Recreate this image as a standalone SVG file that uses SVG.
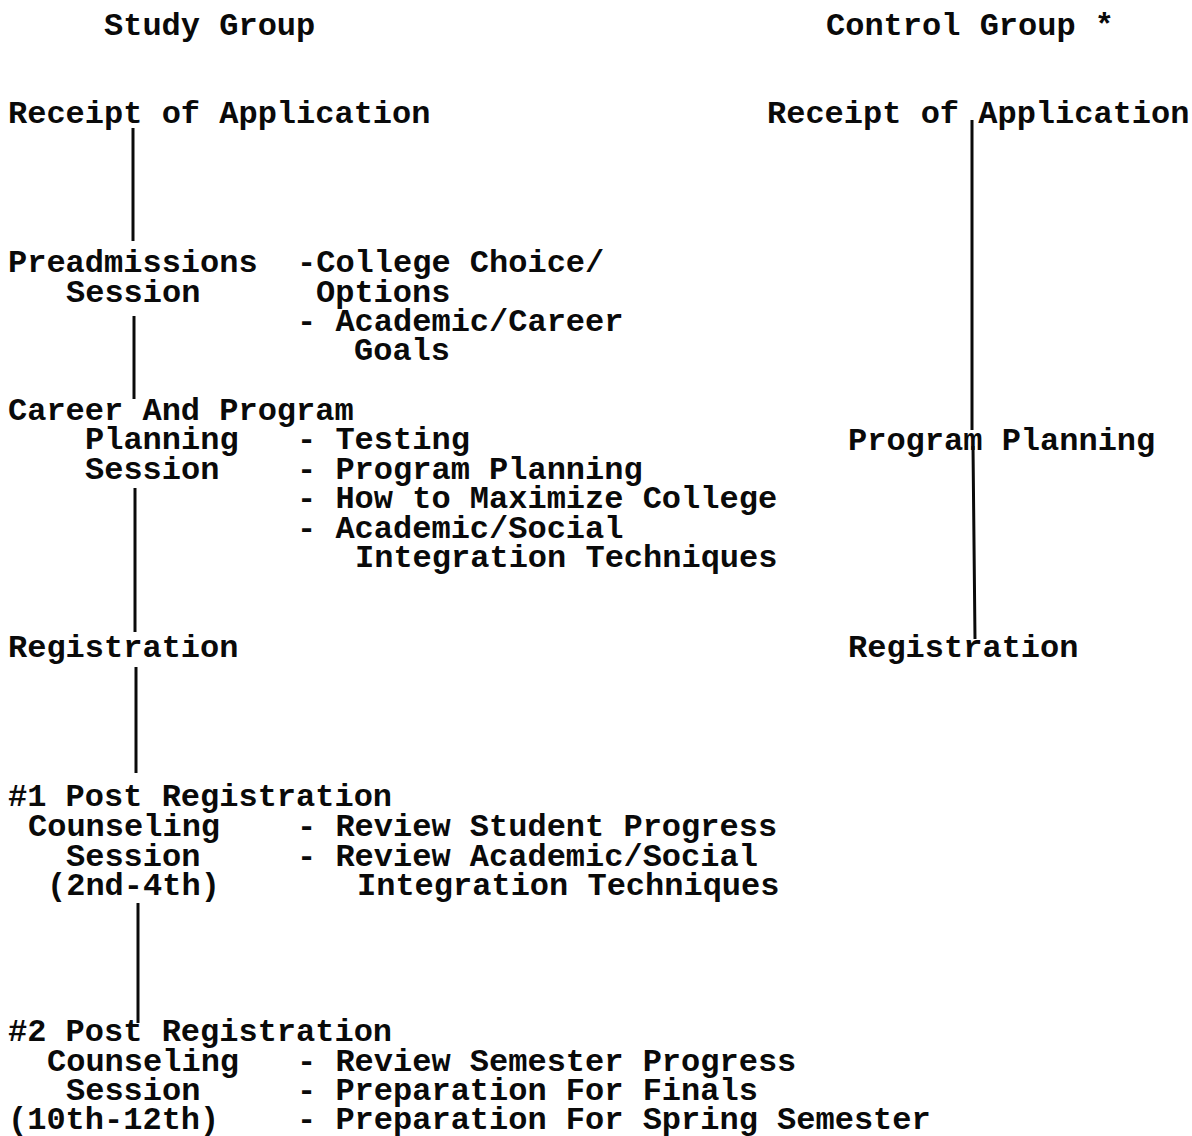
<svg xmlns="http://www.w3.org/2000/svg" width="1192" height="1136" viewBox="0 0 1192 1136">
<style>
text{font-family:"Courier New","Liberation Mono","DejaVu Sans Mono",monospace;font-weight:bold;font-size:32px;fill:#0a0a0a;white-space:pre}
.c{stroke:#0a0a0a;stroke-width:3;fill:none;stroke-linecap:butt}
</style>
<rect width="1192" height="1136" fill="#ffffff"/>
<g id="headers">
<text x="104" y="35">Study Group</text>
<text x="826" y="35">Control Group *</text>
</g>
<g id="study-receipt"><text x="8" y="123">Receipt of Application</text></g>
<g id="study-preadmissions">
<text x="8" y="272">Preadmissions</text>
<text x="66" y="302">Session</text>
<text x="297" y="272">-College Choice/</text>
<text x="316" y="302">Options</text>
<text x="297" y="331">- Academic/Career</text>
<text x="354" y="360">Goals</text>
</g>
<g id="study-career">
<text x="8" y="420">Career And Program</text>
<text x="85" y="449">Planning</text>
<text x="85" y="479">Session</text>
<text x="297" y="449">- Testing</text>
<text x="297" y="479">- Program Planning</text>
<text x="297" y="508">- How to Maximize College</text>
<text x="297" y="538">- Academic/Social</text>
<text x="355" y="567">Integration Techniques</text>
</g>
<g id="study-registration"><text x="8" y="657">Registration</text></g>
<g id="study-post1">
<text x="8" y="806">#1 Post Registration</text>
<text x="28" y="836">Counseling</text>
<text x="66" y="866">Session</text>
<text x="47" y="895">(2nd-4th)</text>
<text x="297" y="836">- Review Student Progress</text>
<text x="297" y="866">- Review Academic/Social</text>
<text x="357" y="895">Integration Techniques</text>
</g>
<g id="study-post2">
<text x="8" y="1041">#2 Post Registration</text>
<text x="47" y="1071">Counseling</text>
<text x="66" y="1100">Session</text>
<text x="8" y="1129">(10th-12th)</text>
<text x="297" y="1071">- Review Semester Progress</text>
<text x="297" y="1100">- Preparation For Finals</text>
<text x="297" y="1129">- Preparation For Spring Semester</text>
</g>
<g id="control-receipt"><text x="767" y="123">Receipt of Application</text></g>
<g id="control-program"><text x="848" y="450">Program Planning</text></g>
<g id="control-registration"><text x="848" y="657">Registration</text></g>
<g id="connectors">
<line class="c" x1="133" y1="128" x2="133" y2="241"/>
<line class="c" x1="134" y1="316" x2="134" y2="399"/>
<line class="c" x1="135" y1="488" x2="135" y2="632"/>
<line class="c" x1="136" y1="667" x2="136" y2="773"/>
<line class="c" x1="138" y1="903" x2="138" y2="1023"/>
<path class="c" d="M972 120 L972 430 M973 446 L975 639"/>
</g>
</svg>
